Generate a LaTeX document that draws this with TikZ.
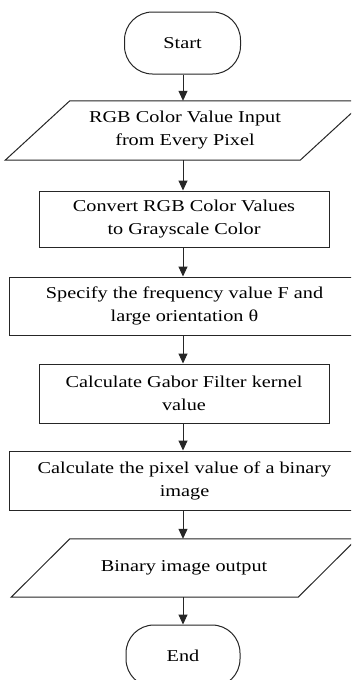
\documentclass[tikz,border=0pt]{standalone}
\usepackage{fontspec}
\setmainfont{Liberation Serif}[FakeStretch=1.22]
\usetikzlibrary{arrows.meta}
\begin{document}
\begin{tikzpicture}[x=1pt,y=-1pt,
  every node/.style={font=\fontsize{16.6}{23}\selectfont, align=center, inner sep=0pt},
  line/.style={line width=1pt, draw=black!85},
  terminal/.style={line, draw, rounded corners=28pt, minimum width=116pt, minimum height=62pt},
  process/.style={line, draw, minimum height=58pt},
  iobox/.style={minimum height=59pt},
  flow/.style={line, -{Triangle[length=10pt,width=9pt]}}
]
\useasboundingbox (0,0) rectangle (351,680);
\clip (0,0) rectangle (351,680);
\fill[white] (0,0) rectangle (351,680);

% terminals, steps and data blocks down the page
\node[terminal] (start) at (182.5,43) {Start};
\node[iobox, minimum width=230pt] (input) at (185,130.5) {RGB Color Value Input\\from Every Pixel};
\node[process, minimum width=290pt, minimum height=56pt] (gray) at (184,219) {Convert RGB Color Values\\to Grayscale Color};
\node[process, minimum width=350pt] (freq) at (184.5,306) {Specify the frequency value F and\\large orientation θ};
\node[process, minimum width=290pt, minimum height=59pt] (gabor) at (184,393.5) {Calculate Gabor Filter kernel\\value};
\node[process, minimum width=350pt, minimum height=59pt] (binary) at (184.5,480.5) {Calculate the pixel value of a binary\\image};
\node[iobox, minimum width=228pt, minimum height=58pt] (output) at (184,568) {Binary image output};
\node[terminal, minimum width=114pt] (end) at (183,656) {End};

% parallelogram outlines for the input/output blocks
\draw[line] (input.north west) -- ++(295,0) -- (input.south east) -- ++(-295,0) -- cycle;
\draw[line] (output.north west) -- ++(287,0) -- (output.south east) -- ++(-287,0) -- cycle;

% connectors
\draw[flow] (start.south -| 183,0) -- (input.north -| 183,0);
\draw[flow] (input.south -| 183,0) -- (gray.north -| 183,0);
\draw[flow] (gray.south -| 183,0) -- (freq.north -| 183,0);
\draw[flow] (freq.south -| 183,0) -- (gabor.north -| 183,0);
\draw[flow] (gabor.south -| 183,0) -- (binary.north -| 183,0);
\draw[flow] (binary.south -| 183,0) -- (output.north -| 183,0);
\draw[flow] (output.south -| 183,0) -- (end.north -| 183,0);
\end{tikzpicture}
\end{document}
